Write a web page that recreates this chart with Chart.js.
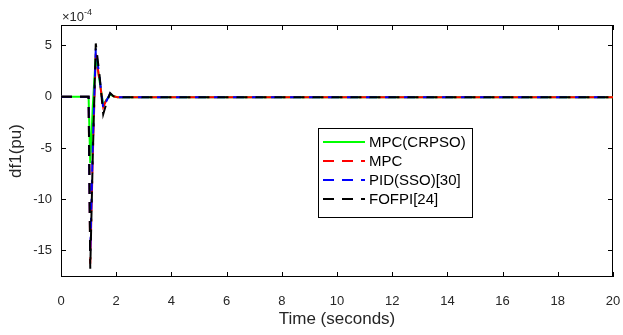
<!DOCTYPE html>
<html>
<head>
<meta charset="utf-8">
<script src="https://cdn.jsdelivr.net/npm/chart.js@4.4.1/dist/chart.umd.min.js"></script>
<style>
  html, body { margin: 0; padding: 0; background: #fff; }
  #wrap { width: 623px; height: 335px; }
</style>
</head>
<body>
<div id="wrap"><canvas id="freqChart"></canvas></div>
<script>
// values are in units of 1e-4 pu
const timeSec  = [0, 1.0, 1.06, 1.15, 1.26, 1.4, 1.53, 1.65, 1.78, 1.9, 2.05, 2.5, 20];
const mpcCrpso = [0, 0, -6.5, -1.0, 4.0, 1.5, -0.8, -0.3, 0.2, 0.05, -0.05, -0.05, -0.05];
const mpc      = [0, 0, -16.3, -6.0, 4.2, 1.5, -1.0, -0.3, 0.2, 0.05, -0.05, -0.05, -0.05];
const pidSso   = [0, 0, -15.3, -5.0, 4.7, 1.8, -1.1, -0.4, 0.3, 0.05, -0.05, -0.05, -0.05];
const fofpi    = [0, 0, -16.8, -6.0, 5.2, 2.0, -1.7, -0.6, 0.35, 0.05, -0.05, -0.05, -0.05];

const seriesNames = ["MPC(CRPSO)", "MPC", "PID(SSO)[30]", "FOFPI[24]"];
const xTicks = [0, 2, 4, 6, 8, 10, 12, 14, 16, 18, 20];
const yTicks = [-15, -10, -5, 0, 5];

const FONT = "'Liberation Sans', Arial, Helvetica, sans-serif";
Chart.defaults.font.family = FONT;
Chart.defaults.color = "#262626";

function toPoints(ys) {
  return ys.map((y, i) => ({ x: timeSec[i], y: y }));
}

const colors = ["#00ff00", "#ff0000", "#0000ff", "#000000"];
const dashes = [[], [11, 8], [11, 8], [11, 8]];
const allSeries = [mpcCrpso, mpc, pidSso, fofpi];

const datasets = allSeries.map((ys, i) => ({
  label: seriesNames[i],
  data: toPoints(ys),
  borderColor: colors[i],
  backgroundColor: colors[i],
  borderWidth: 2,
  borderDash: dashes[i],
  pointRadius: 0,
  tension: 0,
  order: 4 - i,
}));

// box, inward ticks, exponent label and the legend inside the axes
const matlabAxes = {
  id: "matlabAxes",
  beforeDatasetsDraw(chart) {
    const { ctx, chartArea: a, scales } = chart;
    ctx.save();
    ctx.strokeStyle = "#000";
    ctx.lineWidth = 1;
    ctx.strokeRect(a.left + 0.5, a.top + 0.5, a.right - a.left - 1, a.bottom - a.top - 1);
    ctx.beginPath();
    xTicks.forEach(v => {
      const x = Math.round(scales.x.getPixelForValue(v)) + 0.5;
      ctx.moveTo(x, a.bottom); ctx.lineTo(x, a.bottom - 5);
      ctx.moveTo(x, a.top); ctx.lineTo(x, a.top + 5);
    });
    yTicks.forEach(v => {
      const y = Math.round(scales.y.getPixelForValue(v)) + 0.5;
      ctx.moveTo(a.left, y); ctx.lineTo(a.left + 5, y);
      ctx.moveTo(a.right, y); ctx.lineTo(a.right - 5, y);
    });
    ctx.stroke();

    ctx.fillStyle = "#262626";
    ctx.textBaseline = "alphabetic";
    ctx.textAlign = "left";
    ctx.font = "13px " + FONT;
    ctx.fillText("\u00d710", a.left + 1, a.top - 4);
    const w = ctx.measureText("\u00d710").width;
    ctx.font = "9px " + FONT;
    ctx.fillText("-4", a.left + 1 + w, a.top - 10);
    ctx.restore();
  },
  afterDraw(chart) {
    const { ctx } = chart;
    const bx = 318, by = 128, bw = 154, bh = 89;
    ctx.save();
    ctx.fillStyle = "#fff";
    ctx.fillRect(bx, by, bw, bh);
    ctx.strokeStyle = "#000";
    ctx.lineWidth = 1;
    ctx.strokeRect(bx + 0.5, by + 0.5, bw, bh);
    ctx.font = "15px " + FONT;
    ctx.textBaseline = "middle";
    ctx.textAlign = "left";
    chart.data.datasets.forEach((ds, i) => {
      const y = by + 14 + i * 19;
      ctx.strokeStyle = ds.borderColor;
      ctx.lineWidth = 2;
      ctx.setLineDash(ds.borderDash);
      ctx.beginPath();
      ctx.moveTo(bx + 5, y);
      ctx.lineTo(bx + 47, y);
      ctx.stroke();
      ctx.setLineDash([]);
      ctx.fillStyle = "#000";
      ctx.fillText(ds.label, bx + 51, y + 1);
    });
    ctx.restore();
  },
};

new Chart(document.getElementById("freqChart"), {
  type: "line",
  data: { datasets },
  options: {
    responsive: true,
    maintainAspectRatio: false,
    animation: false,
    layout: { padding: { top: 25, right: 10, bottom: 0, left: 0 } },
    plugins: { legend: { display: false }, tooltip: { enabled: false } },
    scales: {
      x: {
        type: "linear",
        min: 0,
        max: 20,
        afterBuildTicks: s => { s.ticks = xTicks.map(v => ({ value: v })); },
        afterFit: s => { s.height = 58; s.paddingLeft = 0; s.paddingRight = 0; },
        grid: { display: false, drawTicks: false },
        border: { display: false },
        ticks: { padding: 17, font: { size: 13 }, maxRotation: 0 },
        title: { display: true, text: "Time (seconds)", font: { size: 17 }, padding: { top: 0, bottom: 5 } },
      },
      y: {
        type: "linear",
        min: -17.6,
        max: 7,
        afterBuildTicks: s => { s.ticks = yTicks.map(v => ({ value: v })); },
        afterFit: s => { s.width = 61; s.paddingTop = 0; s.paddingBottom = 0; },
        grid: { display: false, drawTicks: false },
        border: { display: false },
        ticks: { padding: 9, font: { size: 13 } },
        title: { display: true, text: "df1(pu)", font: { size: 17 }, padding: { top: 6, bottom: 0 } },
      },
    },
  },
  plugins: [matlabAxes],
});
</script>
</body>
</html>
